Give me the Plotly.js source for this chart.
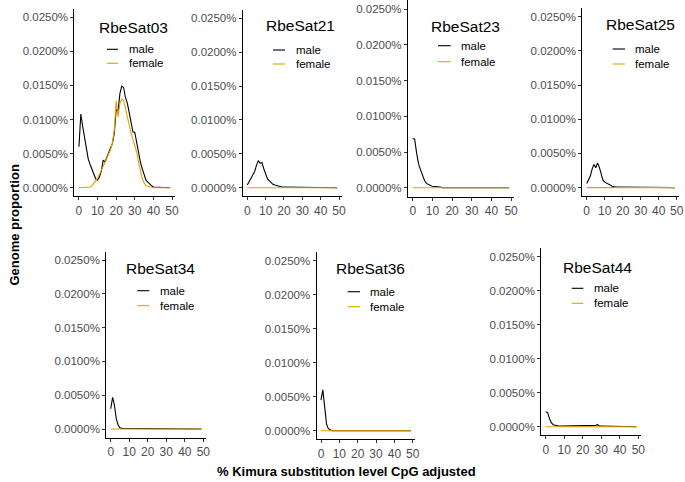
<!DOCTYPE html>
<html>
<head>
<meta charset="utf-8">
<script src="https://cdn.plot.ly/plotly-3.0.1.min.js"></script>
<style>html,body{margin:0;padding:0;background:#fff;}#chart{width:685px;height:482px;}</style>
</head>
<body>
<div id="chart"></div>
<script>
// ---- data (values in % of genome) ----
const kimura = [0,1,2,3,4,5,6,7,8,9,10,11,12,13,14,15,16,17,18,19,20,21,22,23,24,25,26,27,28,29,30,31,32,33,34,35,36,37,38,39,40,41,42,43,44,45,46,47,48,49];
const satellites = ["RbeSat03","RbeSat21","RbeSat23","RbeSat25","RbeSat34","RbeSat36","RbeSat44"];
const sexes = ["male","female"];
const xTickVals = [0,10,20,30,40,50];
const yTickVals = [0,0.005,0.010,0.015,0.020,0.025];
const yTickText = ["0.0000%","0.0050%","0.0100%","0.0150%","0.0200%","0.0250%"];

const sat03_male = [0.0060,0.0108,0.0090,0.0075,0.0055,0.0042,0.0034,0.0027,0.0020,0.0013,0.0011,0.0016,0.0024,0.0040,0.0038,0.0045,0.0050,0.0057,0.0065,0.0080,0.0115,0.0112,0.0138,0.0149,0.0147,0.0132,0.0124,0.0110,0.0095,0.0082,0.0081,0.0065,0.0050,0.0038,0.0028,0.0018,0.0011,0.0008,0.0005,0.0003,0.0001,0.0001,0,0,0,0,0,0,0,0];
const sat03_female = [0,0,0,0,0,0,0.0001,0.0003,0.0006,0.0010,0.0014,0.0019,0.0025,0.0031,0.0037,0.0043,0.0049,0.0056,0.0066,0.0085,0.0127,0.0104,0.0124,0.0130,0.0128,0.0116,0.0101,0.0090,0.0080,0.0071,0.0062,0.0052,0.0038,0.0024,0.0013,0.0007,0.0003,0.0002,0.0001,0,0,0,0,0,0,0,0,0,0,0];
const sat21_male = [0.0004,0.0009,0.0014,0.0018,0.0024,0.0033,0.0040,0.0036,0.0037,0.0028,0.0019,0.0013,0.0010,0.0007,0.0005,0.0004,0.0003,0.0002,0.0002,0.0001,0.0001,0.0001,0.0001,0.0001,0.0001,0.0001,0.0001,0.0001,0.0001,0.0001,0,0,0,0,0,0,0,0,0,0,0,0,0,0,0,0,0,0,0,0];
const sat21_female = [0,0,0,0,0,0,0,0,0,0,0,0,0,0,0,0,0,0,0,0,0,0,0,0,0,0,0,0,0,0,0,0,0,0,0,0,0,0,0,0,0,0,0,0,0,0,0,0,0,0];
const sat23_male = [0.0069,0.0068,0.0048,0.0033,0.0025,0.0016,0.0010,0.0006,0.0004,0.0003,0.0002,0.0002,0.0001,0.0001,0.0001,0,0,0,0,0,0,0,0,0,0,0,0,0,0,0,0,0,0,0,0,0,0,0,0,0,0,0,0,0,0,0,0,0,0,0];
const sat23_female = [0,0,0,0,0,0,0,0,0,0,0,0,0,0,0,0,0,0,0,0,0,0,0,0,0,0,0,0,0,0,0,0,0,0,0,0,0,0,0,0,0,0,0,0,0,0,0,0,0,0];
const sat25_male = [0.0006,0.0011,0.0017,0.0027,0.0034,0.0029,0.0036,0.0030,0.0019,0.0011,0.0008,0.0007,0.0005,0.0004,0.0002,0.0001,0.0001,0.0001,0.0001,0.0001,0.0001,0.0001,0.0001,0.0001,0.0001,0.0001,0.0001,0.0001,0,0,0,0,0,0,0,0,0,0,0,0,0,0,0,0,0,0,0,0,0,0];
const sat25_female = [0,0,0,0,0,0,0,0,0,0,0,0,0,0,0,0,0,0,0,0,0,0,0,0,0,0,0,0,0,0,0,0,0,0,0,0,0,0,0,0,0,0,0,0,0,0,0,0,0,0];
const sat34_male = [0.0030,0.0047,0.0035,0.0015,0.0006,0.0002,0.0001,0.0001,0.0001,0.0001,0,0,0,0,0,0,0,0,0,0,0,0,0,0,0,0,0,0,0,0,0,0,0,0,0,0,0,0,0,0,0,0,0,0,0,0,0,0,0,0];
const sat34_female = [0,0,0,0,0,0,0,0,0,0,0,0,0,0,0,0,0,0,0,0,0,0,0,0,0,0,0,0,0,0,0,0,0,0,0,0,0,0,0,0,0,0,0,0,0,0,0,0,0,0];
const sat36_male = [0.0045,0.0060,0.0035,0.0010,0.0003,0.0001,0,0,0,0,0,0,0,0,0,0,0,0,0,0,0,0,0,0,0,0,0,0,0,0,0,0,0,0,0,0,0,0,0,0,0,0,0,0,0,0,0,0,0,0];
const sat36_female = [0,0,0,0,0,0,0,0,0,0,0,0,0,0,0,0,0,0,0,0,0,0,0,0,0,0,0,0,0,0,0,0,0,0,0,0,0,0,0,0,0,0,0,0,0,0,0,0,0,0];
const sat44_male = [0.0022,0.0021,0.0012,0.0006,0.0003,0.0002,0.0001,0.0001,0.0001,0.0001,0.0001,0.0001,0.0001,0.0001,0.0001,0.0001,0.0001,0.0001,0.0001,0.0001,0.0001,0.0001,0.0001,0.0001,0.0002,0.0001,0.0001,0.0002,0.0003,0.0001,0.0001,0.0001,0.0001,0.0001,0.0001,0.0001,0.0001,0,0,0,0,0,0,0,0,0,0,0,0,0];
const sat44_female = [0,0,0,0,0,0,0,0,0,0,0,0,0,0,0,0,0,0,0,0,0,0,0,0,0,0,0,0,0,0,0,0,0,0,0,0,0,0,0,0,0,0,0,0,0,0,0,0,0,0];

const seriesBySat = [
  [sat03_male, sat03_female],
  [sat21_male, sat21_female],
  [sat23_male, sat23_female],
  [sat25_male, sat25_female],
  [sat34_male, sat34_female],
  [sat36_male, sat36_female],
  [sat44_male, sat44_female]
];

// ---- layout geometry (pixels) ----
const W = 685, H = 482;
const FONT = "Liberation Sans, Arial, Helvetica, sans-serif";
const colors = {male: "#000000", female: "#E69F00"};
// plot boxes: left, right, top, bottom
const boxes = [
  [74.4,174.7,8.8,196.2],
  [242.8,341.7,9.8,196.2],
  [407.9,513.9,0.4,196.6],
  [582.3,679.4,8.1,196.2],
  [106.2,206.0,251.6,437.5],
  [316.5,415.4,252.2,439.2],
  [541.2,641.0,248.2,435.2]
];
// title cx, cy, legend line x1, x2, text x, male y, female y
const labels = [
  [133.8,27.5,107,118,127,49.3,63.3],
  [300.8,25.5,273,285,294,50,64],
  [465.8,26.7,438,450.7,459.3,45.7,61.7],
  [640.5,24.8,612.7,625,633.3,49,64],
  [160.8,268.3,137.3,149.3,157.7,290.7,305.7],
  [370.8,268.3,347.7,360,368.3,291.7,306.7],
  [597.2,267.3,571.7,583.3,592.3,288.3,303.3]
];
const px = x => x / W;
const py = y => 1 - y / H;

const traces = [];
const layout = {
  width: W, height: H,
  margin: {l:0, r:0, t:0, b:0},
  paper_bgcolor: "#ffffff",
  plot_bgcolor: "#ffffff",
  showlegend: false,
  font: {family: FONT},
  annotations: [],
  shapes: []
};

satellites.forEach((name, i) => {
  const n = i + 1;
  const xa = "x" + (n === 1 ? "" : n), ya = "y" + (n === 1 ? "" : n);
  const xk = "xaxis" + (n === 1 ? "" : n), yk = "yaxis" + (n === 1 ? "" : n);
  sexes.forEach((sex, j) => {
    traces.push({
      type: "scatter", mode: "lines",
      x: kimura, y: seriesBySat[i][j],
      xaxis: xa, yaxis: ya, name: sex,
      line: {color: colors[sex], width: 1.1},
      hoverinfo: "skip"
    });
  });
  const b = boxes[i];
  layout[xk] = {
    domain: [px(b[0]), px(b[1])], anchor: ya,
    range: [-2.45, 51.45], tickmode: "array", tickvals: xTickVals,
    showline: true, linecolor: "#000000", linewidth: 1,
    ticks: "outside", ticklen: 3, tickcolor: "#333333", tickwidth: 1,
    showgrid: false, zeroline: false, ticklabeloverflow: "allow",
    tickfont: {family: FONT, size: 12, color: "#4D4D4D"}
  };
  layout[yk] = {
    domain: [py(b[3]), py(b[2])], anchor: xa,
    range: [-0.00125, 0.02625], tickmode: "array",
    tickvals: yTickVals, ticktext: yTickText,
    showline: true, linecolor: "#000000", linewidth: 1,
    ticks: "outside", ticklen: 3, tickcolor: "#333333", tickwidth: 1,
    showgrid: false, zeroline: false, ticklabeloverflow: "allow",
    tickfont: {family: FONT, size: 11.5, color: "#4D4D4D"}
  };
  const L = labels[i];
  layout.annotations.push({
    xref: "paper", yref: "paper", x: px(L[0]), y: py(L[1]),
    xanchor: "center", yanchor: "middle", showarrow: false,
    text: name, font: {family: FONT, size: 15.5, color: "#000000"}
  });
  sexes.forEach((sex, j) => {
    const yy = L[5 + j];
    layout.shapes.push({
      type: "line", xref: "paper", yref: "paper",
      x0: px(L[2]), x1: px(L[3]), y0: py(yy), y1: py(yy),
      line: {color: colors[sex], width: 1.1}
    });
    layout.annotations.push({
      xref: "paper", yref: "paper", x: px(L[4]), y: py(yy),
      xanchor: "left", yanchor: "middle", showarrow: false,
      text: sex, font: {family: FONT, size: 11.5, color: "#000000"}
    });
  });
});

layout.annotations.push({
  xref: "paper", yref: "paper", x: px(346), y: py(471.5),
  xanchor: "center", yanchor: "middle", showarrow: false,
  text: "<b>% Kimura substitution level CpG adjusted</b>",
  font: {family: FONT, size: 13, color: "#000000"}
});
layout.annotations.push({
  xref: "paper", yref: "paper", x: px(13.5), y: py(225),
  xanchor: "center", yanchor: "middle", showarrow: false, textangle: -90,
  text: "<b>Genome proportion</b>",
  font: {family: FONT, size: 13, color: "#000000"}
});

Plotly.newPlot("chart", traces, layout, {staticPlot: true, displayModeBar: false});
</script>
</body>
</html>
